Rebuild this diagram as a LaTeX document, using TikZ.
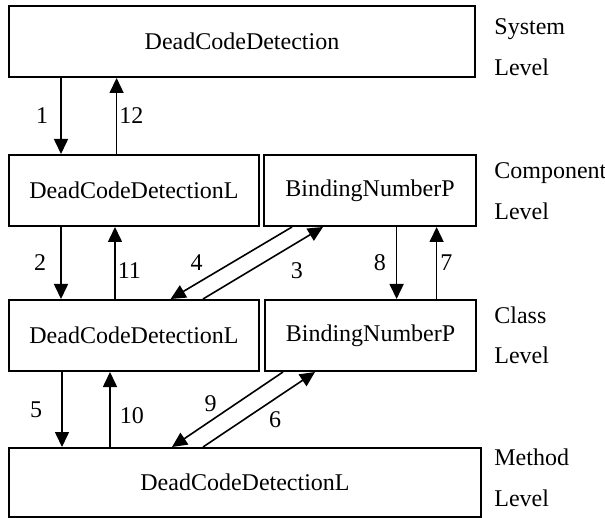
\documentclass[tikz,border=0pt]{standalone}
\usepackage{fontspec}
\setmainfont{Liberation Serif}
\usetikzlibrary{arrows.meta, positioning}

\begin{document}
\begin{tikzpicture}[
			x=0.5pt, y=-0.5pt,
			box/.style={draw, line width=1pt, inner sep=0pt, font=\fontsize{12}{14.5}\selectfont},
			flow/.style={line width=0.8pt, -{Triangle[width=7pt,length=7.5pt]}},
			num/.style={inner sep=0pt, font=\fontsize{12}{14.5}\selectfont},
			level/.style={align=left, anchor=base west, inner sep=0pt, font=\fontsize{12}{20.5}\selectfont}
			]
			\useasboundingbox (0,0) rectangle (605,518);
			\node[box, minimum width=233pt, minimum height=35.5pt] (system) at (242,41.5) {DeadCodeDetection};
			\node[box, minimum width=125pt, minimum height=35.5pt] (compL) at (134,190.5) {DeadCodeDetectionL};
			\node[box, minimum width=106pt, minimum height=35.5pt] (compR) at (370,190.5) {BindingNumberP};
			\node[box, minimum width=125pt, minimum height=35.5pt] (classL) at (134,335.5) {DeadCodeDetectionL};
			\node[box, minimum width=105.5pt, minimum height=35.5pt] (classR) at (370.5,335.5) {BindingNumberP};
			\node[box, minimum width=236pt, minimum height=34.5pt] (meth) at (245,482.5) {DeadCodeDetectionL};
			\node[level] (systemlevel) at (494,76) {System\\Level};
			\node[level] (complevel) at (494,220) {Component\\Level};
			\node[level] (classlevel) at (494,364) {Class\\Level};
			\node[level] (methlevel) at (494,506) {Method\\Level};
			\draw[flow] ([xshift=-36.5pt]compL.north |- system.south) -- node[num, left=6pt] {1} ([xshift=-36.5pt]compL.north);
			\draw[flow] ([xshift=-8.7pt]compL.north) -- node[num, right=1pt] {12} ([xshift=-8.7pt]compL.north |- system.south);
			\draw[flow] ([xshift=-36.5pt]compL.south) -- node[num, left=7pt] {2} ([xshift=-36.5pt]classL.north);
			\draw[flow] ([xshift=-9.5pt]classL.north) -- node[num, right=1pt, pos=0.4] {11} ([xshift=-9.5pt]compL.south);
			\draw[flow] ([xshift=-39pt]compR.south) -- node[num, left=14pt] {4} ([xshift=18.3pt]classL.north);
			\draw[flow] ([xshift=34.5pt]classL.north) -- node[num, right=19.5pt, pos=0.4] {3} ([xshift=-23.5pt]compR.south);
			\draw[flow] ([xshift=13.3pt]compR.south) -- node[num, left=5pt] {8} ([xshift=13.3pt]compR.south |- classR.north);
			\draw[flow] ([xshift=33.3pt]compR.south |- classR.north) -- node[num, right=1.5pt] {7} ([xshift=33.3pt]compR.south);
			\draw[flow] ([xshift=-36pt]classL.south) -- node[num, left=9.5pt] {5} ([xshift=-36pt]classL.south |- meth.north);
			\draw[flow] ([xshift=-12pt]classL.south |- meth.north) -- node[num, right=4.5pt, pos=0.42] {10} ([xshift=-12pt]classL.south);
			\draw[flow] ([xshift=-43.75pt]classR.south) -- node[num, left=9.5pt, pos=0.42] {9} ([xshift=-36.5pt]meth.north);
			\draw[flow] ([xshift=-21pt]meth.north) -- node[num, right=12.5pt, pos=0.36] {6} ([xshift=-27.75pt]classR.south);
		\end{tikzpicture}
\end{document}
